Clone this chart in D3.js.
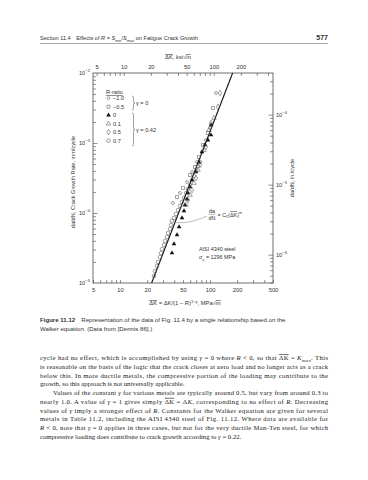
<!DOCTYPE html>
<html lang="en">
<head>
<meta charset="UTF-8">
<title>Walker equation, AISI 4340</title>
<style>
  body { margin: 0; background: #fff; }
  svg { display: block; }
  .sans { font-family: "Liberation Sans", Arial, sans-serif; fill: #333; }
  .serif { font-family: "Liberation Serif", "Times New Roman", serif; fill: #222; }
  .axis path { display: none; }
  .axis line { stroke: #444; stroke-width: 0.6px; }
  .axis text { font-family: "Liberation Sans", Arial, sans-serif; fill: #333; }
</style>
</head>
<body>
<script src="https://d3js.org/d3.v7.min.js"></script>
<script>
// points: [ΔK-bar in MPa√m, da/dN in mm/cycle]
var rNeg10 = [[38.7,1.39e-4],[46.3,1.93e-4],[55.4,2.77e-4],[63.0,3.85e-4],[71.6,5.35e-4],
              [81.3,7.44e-4],[90.0,1.10e-3],[99.8,1.64e-3],[116.3,5.18e-3]];
var rNeg05 = [[42.9,1.69e-4],[50.0,2.28e-4],[59.8,3.49e-4],[68.0,4.54e-4],[75.3,6.31e-4],
              [83.4,9.37e-4],[94.7,1.39e-3],[107.7,3.16e-3]];
var r00 = [[37.7,2.68e-5],[39.7,3.61e-5],[42.9,4.85e-5],[45.2,6.31e-5],[48.7,8.49e-5],
           [51.3,1.07e-4],[52.6,1.30e-4],[55.4,1.58e-4],[56.8,1.93e-4],[59.8,2.35e-4],
           [63.0,2.96e-4],[69.8,3.85e-4],[75.3,5.35e-4],[81.3,7.44e-4],[87.8,9.37e-4],
           [94.7,1.10e-3],[102.3,1.30e-3],[102.3,1.81e-3]];
var r01 = [[54.0,1.30e-4],[59.8,1.81e-4],[66.3,2.68e-4],[73.4,4.11e-4],[85.6,7.94e-4],
           [97.2,1.53e-3],[110.5,2.28e-3]];
var r05 = [[56.8,1.53e-4],[63.0,2.13e-4],[69.8,3.16e-4],[77.3,4.85e-4],[90.0,8.77e-4],
           [102.3,1.93e-3],[122.4,3.27e-3],[128.8,5.18e-3]];
var r07 = [[23.8,1.26e-5],[24.4,1.48e-5],[25.7,1.75e-5],[26.4,2.0e-5],[27.7,2.35e-5],
           [28.5,2.68e-5],[29.2,3.06e-5],[30.8,3.49e-5],[31.5,3.98e-5],[33.2,4.54e-5],
           [34.1,5.18e-5],[35.9,5.91e-5],[36.8,6.74e-5],[37.7,7.69e-5],[39.7,8.49e-5],
           [41.8,9.68e-5],[44.0,1.10e-4],[46.3,1.26e-4],[48.7,1.44e-4],[51.3,1.64e-4],
           [54.0,1.93e-4],[56.8,2.20e-4],[59.8,2.51e-4],[63.0,2.96e-4],[66.3,3.38e-4],
           [69.8,3.98e-4],[73.4,4.69e-4],[77.3,5.35e-4]];
var fitLine = [[22.4,1e-5],[178,1e-2]];

var rLabels = ["\u22121.0", "\u22120.5", "0", "0.1", "0.5", "0.7"];
var series = [rNeg10, rNeg05, r00, r01, r05, r07];

var bottomTicks = [5,6,7,8,9,10,20,30,40,50,60,70,80,90,100,200,300,400,500];
var bottomLabels = [5,10,20,50,100,200,500];
var topTicks = [5,6,7,8,9,10,20,30,40,50,60,70,80,90,100,200,300,400];
var topLabels = [5,10,20,50,100,200];
var leftLabels = [-2,-3,-4,-5];
var rightLabels = [-4,-5,-6];

var bodyLines = [
  "cycle had no effect, which is accomplished by using *\u03b3* = 0 where *R* < 0, so that [\u0394K] = *K*~max~. This",
  "is reasonable on the basis of the logic that the crack closes at zero load and no longer acts as a crack",
  "below this. In more ductile metals, the compressive portion of the loading may contribute to the",
  "growth, so this approach is not universally applicable.",
  "Values of the constant *\u03b3* for various metals are typically around 0.5, but vary from around 0.3 to",
  "nearly 1.0. A value of *\u03b3* = 1 gives simply [\u0394K] = \u0394*K*, corresponding to no effect of *R*. Decreasing",
  "values of *\u03b3* imply a stronger effect of *R*. Constants for the Walker equation are given for several",
  "metals in Table 11.2, including the AISI 4340 steel of Fig. 11.12. Where data are available for",
  "*R* < 0, note that *\u03b3* = 0 applies in three cases, but not for the very ductile Man-Ten steel, for which",
  "compressive loading does contribute to crack growth according to *\u03b3* = 0.22."
];

var W = 368, H = 480;
var svg = d3.select("body").append("svg").attr("width", W).attr("height", H);

var KSI = 1.0988, INCH = 25.4;
var x = d3.scaleLog().domain([5, 500]).range([93, 273]);
var y = d3.scaleLog().domain([1e-5, 1e-2]).range([283, 73]);
var xTop = d3.scaleLog().domain([5 / KSI, 500 / KSI]).range([93, 273]);
var yRight = d3.scaleLog().domain([1e-5 / INCH, 1e-2 / INCH]).range([283, 73]);

// small markup: *italic*, [overline], ~sub~, ^sup^
function rich(sel, str) {
    var shift = 0;
    str.split(/(\*[^*]+\*|\[[^\]]+\]|~[^~]+~|\^[^^]+\^)/).forEach(function (tok) {
        if (!tok) return;
        var t = sel.append("tspan");
        var c = tok[0], body = tok.slice(1, -1);
        if (c === "*") {
            t.attr("font-style", "italic").text(body);
        } else if (c === "[") {
            t.style("text-decoration", "overline").text(body);
        } else if (c === "~") {
            t.attr("font-size", "0.7em").attr("dy", 1.5 - shift).text(body); shift = 1.5; return;
        } else if (c === "^") {
            t.attr("font-size", "0.7em").attr("dy", -2.5 - shift).text(body); shift = -2.5; return;
        } else {
            t.text(tok);
        }
        if (shift) { t.attr("dy", -shift); shift = 0; }
    });
    return sel;
}

/* page header */
rich(svg.append("text").attr("class", "sans").attr("x", 40).attr("y", 40)
    .attr("font-size", "5.6px").attr("fill", "#222"),
    "Section 11.4\u2003Effects of *R* = *S*~min~/*S*~max~ on Fatigue Crack Growth");
svg.append("text").attr("class", "sans").attr("x", 328).attr("y", 40)
    .attr("text-anchor", "end").attr("font-size", "7px").attr("font-weight", "bold")
    .attr("fill", "#111").text("577");
svg.append("line").attr("x1", 40).attr("x2", 328).attr("y1", 43.5).attr("y2", 43.5)
    .attr("stroke", "#555").attr("stroke-width", 0.5);

/* frame */
svg.append("rect").attr("x", 93).attr("y", 73).attr("width", 180).attr("height", 210)
    .attr("fill", "none").attr("stroke", "#333").attr("stroke-width", 0.7);

/* axes, ticks inward */
svg.append("g").attr("class", "axis").attr("transform", "translate(0,283)")
    .call(d3.axisBottom(x).tickValues(bottomTicks).tickSize(-3).tickPadding(5)
        .tickFormat(function (d) { return bottomLabels.indexOf(d) >= 0 ? d : ""; }))
    .selectAll("text").attr("font-size", "5.8px");
svg.append("g").attr("class", "axis").attr("transform", "translate(0,73)")
    .call(d3.axisTop(xTop).tickValues(topTicks).tickSize(-3).tickPadding(4)
        .tickFormat(function (d) { return topLabels.indexOf(d) >= 0 ? d : ""; }))
    .selectAll("text").attr("font-size", "5.8px");

var leftTicks = [], rightTicks = [];
[-5, -4, -3].forEach(function (e) {
    for (var k = 1; k < 10; k++) leftTicks.push(k * Math.pow(10, e));
});
leftTicks = leftTicks.filter(function (v) { return v > 1e-5 && v < 1e-2; });
[-7, -6, -5, -4].forEach(function (e) {
    for (var k = 1; k < 10; k++) rightTicks.push(k * Math.pow(10, e));
});
rightTicks = rightTicks.filter(function (v) { return v > 1e-5 / INCH && v < 1e-2 / INCH; });

svg.append("g").attr("class", "axis").attr("transform", "translate(93,0)")
    .call(d3.axisLeft(y).tickValues(leftTicks).tickSizeInner(-3).tickFormat(""))
    .selectAll(".tick line").attr("x2", function (d) {
        var l = Math.log10(d);
        return Math.abs(l - Math.round(l)) < 1e-6 ? 4.5 : 3;
    });
svg.append("g").attr("class", "axis").attr("transform", "translate(273,0)")
    .call(d3.axisRight(yRight).tickValues(rightTicks).tickSizeInner(-3).tickFormat(""))
    .selectAll(".tick line").attr("x2", function (d) {
        var l = Math.log10(d);
        return Math.abs(l - Math.round(l)) < 1e-6 ? -4.5 : -3;
    });

function powLabel(xp, yp, e, anchor) {
    var t = svg.append("text").attr("class", "sans").attr("x", xp).attr("y", yp + 2)
        .attr("font-size", "5.6px").attr("text-anchor", anchor);
    t.append("tspan").text("10");
    t.append("tspan").attr("dy", -2.6).attr("font-size", "4.2px").text("\u2212" + (-e));
}
leftLabels.forEach(function (e) { powLabel(90, y(Math.pow(10, e)), e, "end"); });
rightLabels.forEach(function (e) { powLabel(276, yRight(Math.pow(10, e)), e, "start"); });

/* axis titles */
rich(svg.append("text").attr("class", "sans").attr("x", 178).attr("y", 59)
    .attr("text-anchor", "middle").attr("font-size", "5.8px"), "[\u0394K], ksi\u221a[in]");
rich(svg.append("text").attr("class", "sans").attr("x", 185).attr("y", 305)
    .attr("text-anchor", "middle").attr("font-size", "5.8px"),
    "[\u0394K] = \u0394K/(1 \u2212 R)^1\u2212\u03b3^, MPa\u221a[m]");
svg.append("text").attr("class", "sans").attr("font-size", "5.6px")
    .attr("text-anchor", "middle")
    .attr("transform", "translate(75,182) rotate(-90)")
    .text("da/dN, Crack Growth Rate, mm/cycle");
svg.append("text").attr("class", "sans").attr("font-size", "5.6px")
    .attr("text-anchor", "middle")
    .attr("transform", "translate(294,178) rotate(-90)")
    .text("da/dN, in./cycle");

/* fitted line */
svg.append("path").datum(fitLine)
    .attr("d", d3.line().x(function (d) { return x(d[0]); }).y(function (d) { return y(d[1]); }))
    .attr("stroke", "#111").attr("stroke-width", 1.1).attr("fill", "none");

/* markers */
var symTypes = [d3.symbolCircle, d3.symbolSquare, d3.symbolTriangle, d3.symbolTriangle,
                d3.symbolDiamond, d3.symbolCircle];
var symSizes = [7, 9, 9, 9, 9, 10];
var symFill = ["none", "none", "#111", "none", "none", "none"];

series.forEach(function (pts, i) {
    svg.append("g").selectAll("path")
        .data(pts)
        .enter()
        .append("path")
        .attr("d", d3.symbol().type(symTypes[i]).size(symSizes[i]))
        .attr("transform", function (d) { return "translate(" + x(d[0]) + "," + y(d[1]) + ")"; })
        .attr("fill", symFill[i])
        .attr("stroke", i === 2 ? "none" : "#555")
        .attr("stroke-width", 0.55);
});

/* legend */
var lg = svg.append("g").attr("class", "sans").attr("font-size", "5.6px");
lg.append("text").attr("x", 106).attr("y", 94).style("text-decoration", "underline").text("R-ratio");
var rowY = [100, 108.5, 117, 125.5, 134, 142.5];
rLabels.forEach(function (lab, i) {
    lg.append("path")
        .attr("d", d3.symbol().type(symTypes[i]).size(symSizes[i]))
        .attr("transform", "translate(108.5," + (rowY[i] - 1.8) + ")")
        .attr("fill", symFill[i]).attr("stroke", i === 2 ? "none" : "#555").attr("stroke-width", 0.55);
    lg.append("text").attr("x", 113).attr("y", rowY[i]).text(lab);
});
function brace(xb, y1, y2) {
    var m = (y1 + y2) / 2;
    return "M" + xb + "," + y1 + " q1.5,0 1.5,1.5 V" + (m - 1.5) + " q0,1.5 1.5,1.5 q-1.5,0 -1.5,1.5 V" +
        (y2 - 1.5) + " q0,1.5 -1.5,1.5";
}
lg.append("path").attr("d", brace(132, 96, 110)).attr("fill", "none").attr("stroke", "#444").attr("stroke-width", 0.5);
lg.append("path").attr("d", brace(132, 113, 146)).attr("fill", "none").attr("stroke", "#444").attr("stroke-width", 0.5);
lg.append("text").attr("x", 136).attr("y", 105).text("\u03b3 = 0");
lg.append("text").attr("x", 136).attr("y", 131.5).text("\u03b3 = 0.42");

/* annotations */
var an = svg.append("g").attr("class", "sans").attr("font-size", "5.4px");
an.append("text").attr("x", 212).attr("y", 212.5).attr("text-anchor", "middle").text("da");
an.append("line").attr("x1", 208.5).attr("x2", 215.5).attr("y1", 214.2).attr("y2", 214.2)
    .attr("stroke", "#444").attr("stroke-width", 0.4);
an.append("text").attr("x", 212).attr("y", 219.5).attr("text-anchor", "middle").text("dN");
rich(an.append("text").attr("x", 217.5).attr("y", 216.5), "= C~2~([\u0394K])^m^");
svg.append("path").attr("d", "M176,222.5 C188,223.5 198,220 207,216")
    .attr("fill", "none").attr("stroke", "#555").attr("stroke-width", 0.4);
an.append("text").attr("x", 199).attr("y", 251).text("AISI 4340 steel");
rich(an.append("text").attr("x", 199).attr("y", 259), "\u03c3~u~ = 1296 MPa");

/* caption */
var cap = svg.append("text").attr("class", "sans").attr("x", 40).attr("y", 322)
    .attr("font-size", "6.1px").attr("fill", "#222");
cap.append("tspan").attr("font-weight", "bold").text("Figure 11.12");
cap.append("tspan").text("\u2003Representation of the data of Fig. 11.4 by a single relationship based on the");
svg.append("text").attr("class", "sans").attr("x", 40).attr("y", 331)
    .attr("font-size", "6.1px").attr("fill", "#222")
    .text("Walker equation. (Data from [Dennis 86].)");

/* body text */
bodyLines.forEach(function (line, i) {
    var indent = i === 4 ? 13 : 0;
    var t = svg.append("text").attr("class", "serif").attr("x", 40 + indent)
        .attr("y", 360 + i * 8.77).attr("font-size", "6.7px");
    rich(t, line);
    if (i !== 3 && i !== 9) {
        t.attr("textLength", 288 - indent).attr("lengthAdjust", "spacing");
    }
});
</script>
</body>
</html>
